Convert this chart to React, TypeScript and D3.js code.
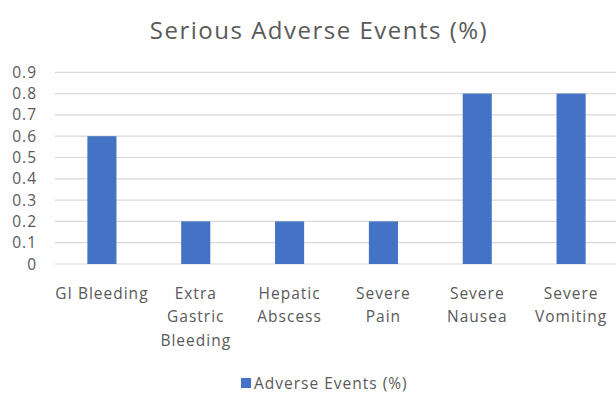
import React from "react";
import * as d3 from "d3";

const categories: string[][] = [
  ["GI Bleeding"],
  ["Extra", "Gastric", "Bleeding"],
  ["Hepatic", "Abscess"],
  ["Severe", "Pain"],
  ["Severe", "Nausea"],
  ["Severe", "Vomiting"],
];
const values: number[] = [0.6, 0.2, 0.2, 0.2, 0.8, 0.8];
const yTicks: number[] = [0, 0.1, 0.2, 0.3, 0.4, 0.5, 0.6, 0.7, 0.8, 0.9];
const title = "Serious Adverse Events (%)";
const seriesName = "Adverse Events (%)";

const W = 616;
const H = 394;
const FONT = "'Open Sans', 'Noto Sans', sans-serif";
const TEXT = "#595959";
const BAR = "#4472C4";

export default function App() {
  const keys = categories.map((c) => c.join(" "));
  const x = d3
    .scaleBand<string>()
    .domain(keys)
    .range([55, 618])
    .paddingInner(0.69)
    .paddingOuter(0.345);
  const y = d3.scaleLinear().domain([0, 0.9]).range([264, 72.3]);

  return (
    <svg
      width={W}
      height={H}
      style={{ position: "absolute", left: 0, top: 0, background: "#fff" }}
      fontFamily={FONT}
    >
      <rect width={W} height={H} fill="#fff" />
      <text x={319} y={38.5} textAnchor="middle" fontSize={24} letterSpacing={1.5} fill={TEXT}>
        {title}
      </text>
      {yTicks.map((t) => (
        <g key={t}>
          <line x1={55} x2={616} y1={y(t)} y2={y(t)} stroke="#d9d9d9" strokeWidth={1.2} />
          <text x={37} y={y(t)} dy="0.36em" textAnchor="end" fontSize={15.5} letterSpacing={1} fill={TEXT}>
            {d3.format("")(t)}
          </text>
        </g>
      ))}
      {values.map((v, i) => (
        <rect
          key={keys[i]}
          x={x(keys[i])}
          y={y(v)}
          width={x.bandwidth()}
          height={y(0) - y(v)}
          fill={BAR}
        />
      ))}
      {categories.map((lines, i) => (
        <text
          key={keys[i]}
          x={(x(keys[i]) as number) + x.bandwidth() / 2}
          textAnchor="middle"
          fontSize={15.5}
          letterSpacing={1}
          fill={TEXT}
        >
          {lines.map((l, j) => (
            <tspan key={j} x={(x(keys[i]) as number) + x.bandwidth() / 2} y={298.5 + j * 23.5}>
              {l}
            </tspan>
          ))}
        </text>
      ))}
      <rect x={241} y={378} width={10} height={10} fill={BAR} />
      <text x={254} y={388.5} fontSize={15.5} letterSpacing={1} fill={TEXT}>
        {seriesName}
      </text>
    </svg>
  );
}
